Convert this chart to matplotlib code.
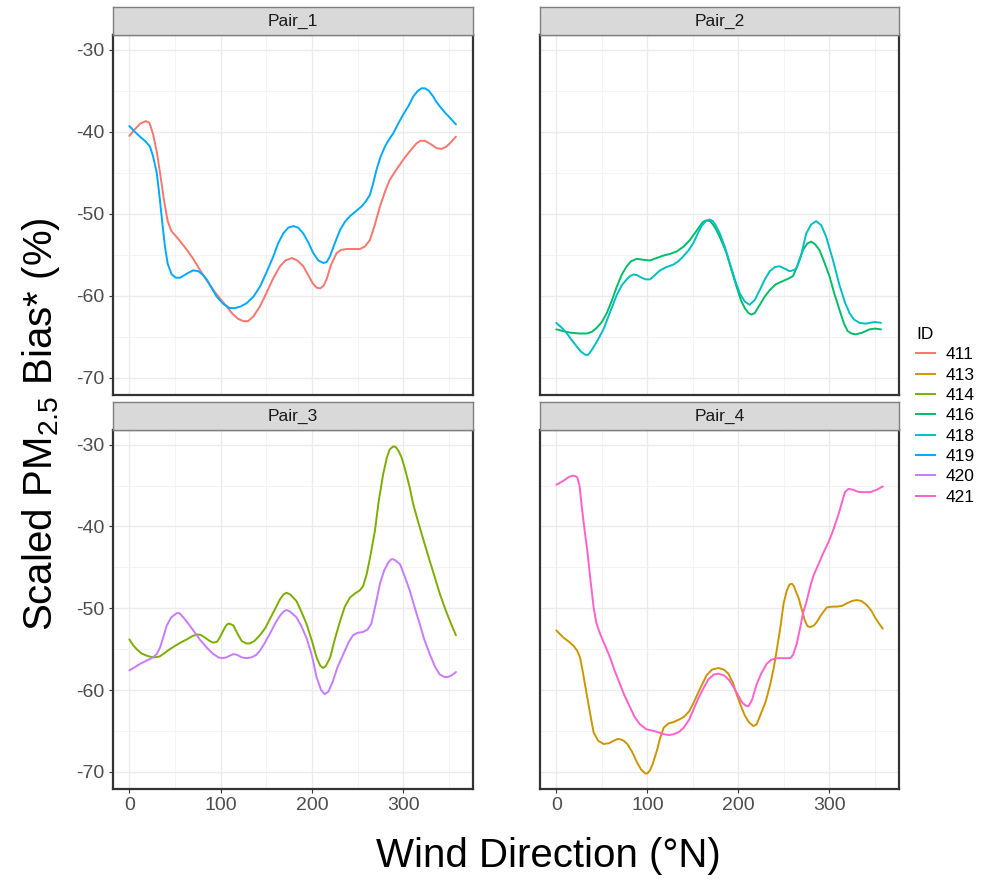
import matplotlib
matplotlib.use("Agg")
import matplotlib.pyplot as plt
from matplotlib.lines import Line2D
from matplotlib.ticker import MultipleLocator

plt.rcParams['font.family'] = ['Liberation Sans', 'DejaVu Sans']
plt.rcParams['mathtext.fontset'] = 'custom'
plt.rcParams['mathtext.rm'] = 'Liberation Sans'
plt.rcParams['mathtext.it'] = 'Liberation Sans:italic'
plt.rcParams['axes.unicode_minus'] = False

ids = ['411', '413', '414', '416', '418', '419', '420', '421']
colors = ['#F8766D', '#CD9600', '#7CAE00', '#00BE67', '#00BFC4', '#00A9FF', '#C77CFF', '#FF61CC']
panels = ['Pair_1', 'Pair_2', 'Pair_3', 'Pair_4']
panel_ids = {'Pair_1': ['411', '419'], 'Pair_2': ['416', '418'],
             'Pair_3': ['414', '420'], 'Pair_4': ['413', '421']}

# ---- series: (wind direction in deg, scaled bias %) ----
x_411 = [0, 6, 12, 18, 22, 26, 30, 33.6, 38, 42, 46, 50, 56, 63, 70, 77, 84, 92, 99, 106.5, 113, 119, 125, 130, 136, 143, 150, 157, 165, 171, 178, 184, 190.5, 196, 201, 205, 209, 212.5, 216, 221, 227, 232, 238, 245, 252.5, 258, 263.5, 269, 274.5, 280, 285, 292, 300, 307, 314.6, 319, 323.7, 330, 336.5, 342, 347.4, 352, 357.7]
y_411 = [-40.5, -39.7, -39.0, -38.7, -38.9, -40.3, -42.4, -45, -48.4, -50.9, -52.1, -52.6, -53.4, -54.4, -55.5, -56.8, -58.0, -59.3, -60.3, -61.3, -62.2, -62.8, -63.1, -63.1, -62.5, -61.3, -59.7, -58.0, -56.4, -55.7, -55.4, -55.7, -56.4, -57.5, -58.5, -59.0, -59.1, -58.8, -58, -56.2, -54.8, -54.4, -54.3, -54.3, -54.3, -54.0, -53.2, -51.3, -49.1, -47.3, -45.9, -44.7, -43.4, -42.4, -41.4, -41.1, -41.1, -41.5, -42, -42.1, -41.8, -41.3, -40.6]

x_419 = [0, 6, 11.7, 17, 22.6, 26, 30, 33, 36, 39, 42, 46.4, 51, 55.5, 60, 64.6, 70, 75.5, 80, 84.7, 90, 95.6, 103, 110, 116, 122, 128.5, 136, 143, 150, 157.7, 163, 168.6, 174, 179.6, 185, 190.5, 196, 201.5, 207, 212.4, 216, 219.7, 225, 230.7, 236, 241.6, 248, 254.4, 259, 263.5, 267, 270.8, 275, 280, 284, 289, 294, 300, 306, 311, 316, 320, 323.7, 328, 332.8, 336, 340, 346, 352, 357.7]
y_419 = [-39.3, -40.0, -40.6, -41.1, -41.8, -43.0, -45, -47.8, -51.0, -54.0, -56.1, -57.4, -57.8, -57.8, -57.5, -57.2, -56.9, -57, -57.4, -58, -59.0, -60.1, -61.0, -61.5, -61.5, -61.3, -60.9, -60.1, -58.9, -57.2, -55.2, -53.6, -52.4, -51.7, -51.5, -51.7, -52.4, -53.5, -54.8, -55.7, -56, -55.9, -55.2, -53.6, -52, -51.0, -50.3, -49.7, -49.1, -48.5, -47.7, -46.3, -44.6, -43.1, -41.8, -41.0, -40.2, -39.1, -37.9, -36.8, -35.7, -35.0, -34.7, -34.7, -35.0, -35.7, -36.3, -36.9, -37.7, -38.4, -39.1]

x_416 = [0, 15.4, 25, 33.6, 39, 44.5, 50, 55.5, 61, 66.4, 72, 77.4, 82, 88.3, 95, 103, 110, 117.5, 125, 132, 140, 146.7, 152, 157.7, 161, 165, 169, 172, 176, 181, 187, 192, 198, 203, 207, 211, 214.4, 218, 223.5, 229, 234.5, 241, 249, 255, 260, 265, 271, 276, 280, 284, 289, 294, 300, 305, 311, 316, 320, 324, 329, 336, 344, 350, 356.6]
y_416 = [-64.1, -64.5, -64.6, -64.6, -64.4, -63.9, -63.2, -62.1, -60.6, -58.9, -57.4, -56.4, -55.8, -55.5, -55.6, -55.7, -55.4, -55.1, -54.9, -54.6, -54.0, -53.2, -52.4, -51.5, -51.0, -50.8, -50.9, -51.3, -52, -53.2, -54.8, -56.7, -58.9, -60.6, -61.5, -62.1, -62.3, -62.1, -61.1, -60.1, -59.3, -58.6, -58.2, -57.9, -57.6, -56.3, -54.4, -53.6, -53.4, -53.7, -54.4, -55.8, -57.6, -59.6, -61.7, -63.4, -64.3, -64.6, -64.7, -64.5, -64.1, -64.0, -64.1]

x_418 = [0, 6, 11.7, 17, 22.6, 27, 31.8, 35, 39, 45, 51.8, 59, 66.4, 72, 77.4, 81, 84.7, 89, 93.8, 98, 103, 108, 114, 121, 128.5, 134, 139.4, 145, 150.4, 155, 159.5, 164, 168.6, 172, 175, 179.6, 185, 190.5, 196, 201.5, 207, 212.4, 218, 223.5, 229, 234.5, 240, 245.3, 251, 256.2, 260, 263.5, 269, 274.5, 280, 285.4, 291, 296.4, 304, 311, 317, 322, 327, 333, 340, 344, 350, 356.6]
y_418 = [-63.3, -63.9, -64.6, -65.4, -66.2, -66.8, -67.2, -67.2, -66.6, -65.5, -64.1, -62.0, -59.9, -58.7, -58, -57.6, -57.4, -57.5, -57.8, -58.0, -58, -57.5, -56.9, -56.5, -56.2, -55.8, -55.2, -54.5, -53.6, -52.5, -51.5, -50.9, -50.7, -50.9, -51.4, -52.4, -54.0, -56, -58.0, -59.7, -60.7, -61.1, -60.5, -59.3, -58.0, -57, -56.5, -56.4, -56.7, -57, -56.9, -56.7, -55.0, -52.4, -51.3, -50.9, -51.4, -52.8, -55.7, -58.7, -60.8, -62.1, -62.9, -63.3, -63.4, -63.3, -63.2, -63.3]

x_414 = [0, 4, 8, 13, 19, 24, 28, 33, 37, 43, 50, 56, 63, 69, 74, 78, 83, 88, 92, 96, 99, 103, 106, 108, 110, 114, 118, 123, 128, 132, 137, 143, 149, 154, 160, 165, 169, 172, 176, 183, 188, 194, 200, 205, 209, 212, 215, 220, 225, 231, 236, 241.6, 247, 252.5, 256, 260, 264, 269, 273, 278, 282, 285, 289, 292, 295, 298, 302, 307, 311, 316, 322, 329, 334, 340, 346, 352, 357.7]
y_414 = [-53.8, -54.5, -55, -55.5, -55.8, -55.95, -56, -55.9, -55.6, -55.1, -54.6, -54.2, -53.8, -53.4, -53.2, -53.25, -53.6, -54.0, -54.2, -54.1, -53.6, -52.7, -52.1, -51.9, -51.9, -52.1, -53.0, -54, -54.3, -54.3, -54.0, -53.3, -52.4, -51.3, -50.0, -48.9, -48.3, -48.1, -48.3, -49.1, -50.3, -51.9, -54.0, -56, -57.0, -57.3, -57.1, -56, -53.8, -51.5, -49.8, -48.7, -48.2, -47.8, -47.3, -45.8, -43.6, -40.5, -37.0, -33.6, -31.6, -30.6, -30.2, -30.3, -30.8, -31.5, -33.0, -35.2, -37.3, -39.3, -41.6, -44.2, -46.0, -48.2, -50.1, -51.8, -53.3]

x_420 = [0, 6, 11.7, 19, 26, 30, 33.6, 37, 41, 46, 51.8, 55, 59, 64, 70, 77, 84.7, 91, 97.4, 102, 106.5, 110, 114, 118, 123, 128, 134, 139, 143, 148, 154, 160, 165, 169, 172, 176, 183, 188, 194, 200, 205, 210, 214, 218, 223, 228, 234, 240, 245, 250, 256, 261, 265, 270, 274.5, 279, 283.6, 287, 289, 292, 296.4, 301, 307, 312, 318, 323, 329, 335, 340, 345, 349, 353, 357.7]
y_420 = [-57.6, -57.2, -56.8, -56.4, -56, -55.6, -54.8, -53.6, -52.1, -51.1, -50.6, -50.6, -51.1, -51.8, -52.7, -53.8, -54.8, -55.5, -56, -56.1, -56, -55.8, -55.6, -55.7, -56, -56.1, -56, -55.7, -55.2, -54.3, -53.1, -51.8, -50.9, -50.4, -50.2, -50.4, -51.1, -52.1, -53.6, -55.8, -58.4, -60.0, -60.5, -60.2, -58.9, -57.2, -55.7, -54.2, -53.3, -53.0, -52.9, -52.6, -51.9, -49.4, -47, -45.4, -44.4, -44.0, -44, -44.2, -44.6, -45.9, -47.8, -49.7, -51.9, -53.8, -55.6, -57.2, -58.1, -58.4, -58.4, -58.2, -57.8]

x_413 = [0, 8, 14, 19, 23, 26, 29, 34, 38, 41, 46, 52, 58, 63, 67, 70, 74, 78, 83, 88.5, 93, 97.7, 100, 103, 106, 110.5, 114, 118, 123, 129, 135, 140, 146, 151, 158, 165, 171, 178, 184, 189, 194, 198, 203, 207, 212, 216.6, 220, 224, 230, 235, 239, 242, 246, 249.5, 253, 256, 258.7, 261, 263, 266, 270, 273, 276, 279, 283, 286, 291, 297, 303, 308, 314, 319, 325, 330, 335, 341, 346, 350, 354, 358.6]
y_413 = [-52.7, -53.6, -54.1, -54.6, -55.2, -56, -57.7, -60.9, -63.4, -65.2, -66.2, -66.6, -66.5, -66.2, -66.0, -66, -66.2, -66.6, -67.5, -68.8, -69.7, -70.2, -70.2, -69.8, -69.0, -67.4, -65.9, -64.6, -64.1, -63.9, -63.6, -63.3, -62.6, -61.5, -59.8, -58.2, -57.5, -57.3, -57.5, -58, -59.1, -60.5, -62.0, -63.1, -64.0, -64.4, -64.2, -63.1, -61.4, -59.3, -57.2, -55.2, -52.4, -49.5, -47.9, -47.1, -47, -47.3, -47.9, -48.7, -50.3, -51.5, -52.2, -52.3, -52.1, -51.7, -50.8, -49.9, -49.8, -49.8, -49.7, -49.4, -49.1, -49, -49.1, -49.6, -50.3, -51.1, -51.8, -52.5]

x_421 = [0, 8, 13, 17, 20, 23, 25.5, 28, 31, 34, 37, 41, 44, 48, 53, 59, 64, 70, 75, 81, 86, 92, 99, 107, 113, 118, 124, 129, 135, 140, 146, 151, 156, 162, 167, 173, 178, 184, 190, 195, 200, 204, 208, 211, 215, 220, 225, 231, 236, 242, 250, 257, 260, 264, 268, 271, 275, 279, 282.5, 288, 293, 299, 304, 310, 317, 321, 326, 330, 334, 340, 345, 352, 358.6]
y_421 = [-34.9, -34.4, -34.0, -33.8, -33.8, -34, -35.0, -37.6, -40.4, -42.9, -46.0, -49.9, -51.8, -53.1, -54.4, -56, -57.6, -59.3, -60.7, -62.1, -63.3, -64.2, -64.8, -65, -65.2, -65.4, -65.5, -65.4, -65.1, -64.6, -63.6, -62.3, -61.0, -59.7, -58.7, -58.1, -58.0, -58.2, -58.8, -59.7, -60.7, -61.5, -61.9, -62, -61.2, -59.3, -58.0, -56.8, -56.3, -56.1, -56.1, -56.1, -55.7, -54.4, -52.3, -50.6, -49.1, -47.3, -46, -44.6, -43.3, -41.9, -40.5, -38.5, -35.8, -35.4, -35.5, -35.7, -35.8, -35.8, -35.8, -35.5, -35.1]

series = {'411': (x_411, y_411), '413': (x_413, y_413), '414': (x_414, y_414),
          '416': (x_416, y_416), '418': (x_418, y_418), '419': (x_419, y_419),
          '420': (x_420, y_420), '421': (x_421, y_421)}

x_ticks = [0, 100, 200, 300]
y_ticks = [-70, -60, -50, -40, -30]

W, H = 986, 882
fig = plt.figure(figsize=(W / 100, H / 100), dpi=100)
fig.patch.set_facecolor('white')

def px_axes(x0, y0, x1, y1):
    return fig.add_axes([x0 / W, 1 - y1 / H, (x1 - x0) / W, (y1 - y0) / H])

boxes = {'Pair_1': (113, 35, 473, 395), 'Pair_2': (540, 35, 899, 395),
         'Pair_3': (113, 430, 473, 789), 'Pair_4': (540, 430, 899, 789)}
cmap = dict(zip(ids, colors))

for i, p in enumerate(panels):
    x0, y0, x1, y1 = boxes[p]
    ax = px_axes(x0, y0, x1, y1)
    ax.set_xlim(-17.9, 376.4)
    ax.set_ylim(-72.1, -28.2)
    ax.xaxis.set_minor_locator(MultipleLocator(50))
    ax.yaxis.set_minor_locator(MultipleLocator(5))
    ax.set_xticks(x_ticks)
    ax.set_yticks(y_ticks)
    ax.grid(which='major', color='#EBEBEB', linewidth=1.0)
    ax.grid(which='minor', color='#F2F2F2', linewidth=0.6)
    ax.set_axisbelow(True)
    for s in ax.spines.values():
        s.set_color('#333333')
        s.set_linewidth(1.6)
    ax.tick_params(which='minor', length=0)
    ax.tick_params(which='major', length=3, color='#333333', width=0.8,
                   labelsize=14, labelcolor='#4D4D4D', pad=3)
    if i % 2 == 1:
        ax.tick_params(axis='y', labelleft=False, length=0)
    if i < 2:
        ax.tick_params(axis='x', labelbottom=False, length=0)
    for sid in panel_ids[p]:
        xs, ys = series[sid]
        ax.plot(xs, ys, color=cmap[sid], linewidth=1.4, solid_joinstyle='round',
                solid_capstyle='round')
    # strip
    sax = px_axes(x0, y0 - 28, x1, y0)
    sax.set_facecolor('#D9D9D9')
    sax.set_xticks([]); sax.set_yticks([])
    for s in sax.spines.values():
        s.set_color('#7F7F7F')
        s.set_linewidth(1.0)
    sax.text(0.5, 0.47, p, ha='center', va='center', fontsize=12.5, color='#1A1A1A',
             transform=sax.transAxes)

fig.text(548 / W, 1 - 856 / H, 'Wind Direction (°N)', ha='center', va='center',
         fontsize=29, color='black')
fig.text(41 / W, 1 - 424 / H, r'Scaled PM$_{\mathregular{2.5}}$ Bias* (%)', ha='center', va='center',
         rotation=90, fontsize=29, color='black')

handles = [Line2D([], [], color=c, linewidth=1.4) for c in colors]
leg = fig.legend(handles, ids, title='ID', loc='upper left',
                 bbox_to_anchor=(909 / W, 1 - 320 / H), frameon=False,
                 fontsize=12.5, title_fontsize=12.5, handlelength=1.1,
                 handletextpad=0.6, labelspacing=0.3, borderaxespad=0)
leg._legend_box.align = 'left'

fig.savefig('out.png', dpi=100, facecolor='white')
